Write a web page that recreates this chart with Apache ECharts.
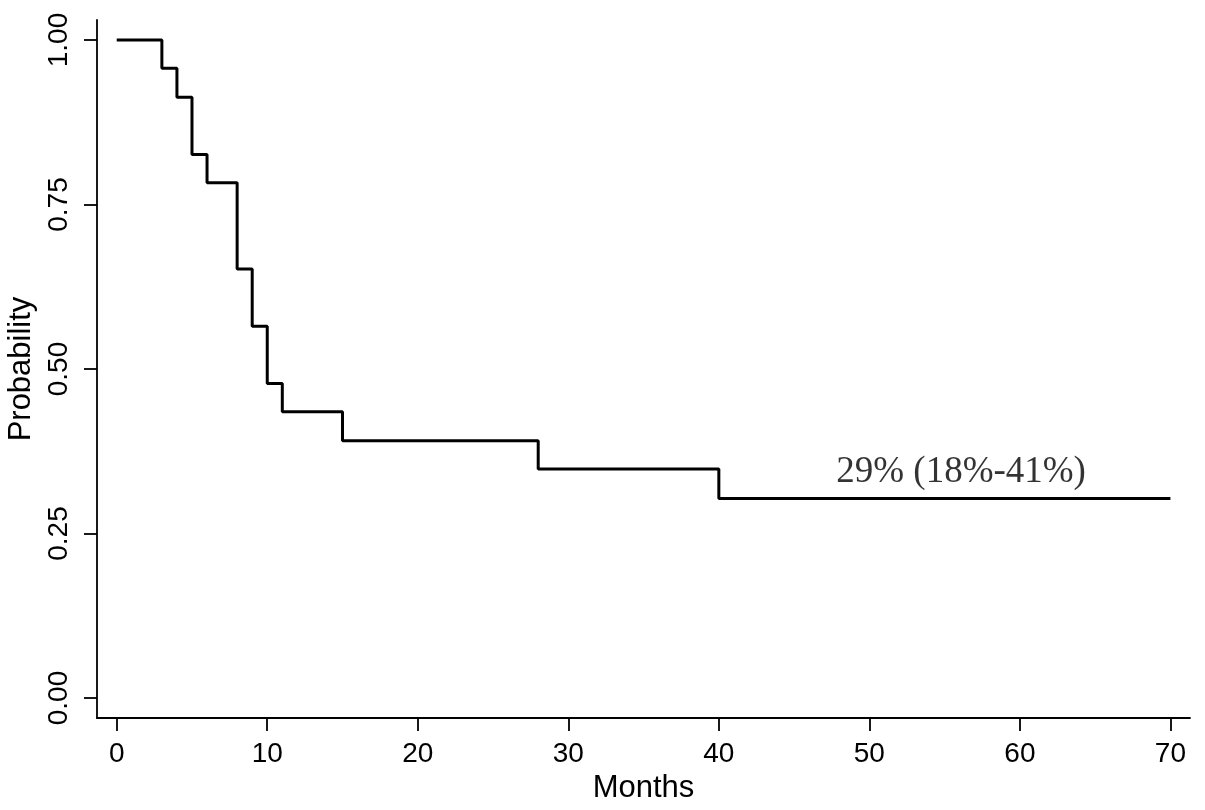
<!DOCTYPE html>
<html>
<head>
<meta charset="utf-8">
<script src="https://cdn.jsdelivr.net/npm/echarts@6/dist/echarts.min.js"></script>
<style>html,body{margin:0;padding:0;background:#fff}#c{width:1205px;height:810px}</style>
</head>
<body>
<div id="c"></div>
<script>
const months = [0, 3, 4, 5, 6, 8, 9, 10, 11, 15, 28, 40, 70];
const probability = [1.0, 0.957, 0.913, 0.826, 0.783, 0.652, 0.565, 0.478, 0.435, 0.391, 0.348, 0.303, 0.303];
const xTicks = [0, 10, 20, 30, 40, 50, 60, 70];
const yTicks = [0, 0.25, 0.5, 0.75, 1.0];
const annotationText = '29% (18%-41%)';
const annotationAt = [47.8, 0.343];

const chart = echarts.init(document.getElementById('c'), null, {renderer: 'canvas'});
const font = 'Liberation Sans, Arial, sans-serif';
chart.setOption({
  animation: false,
  backgroundColor: '#fff',
  grid: {left: 97, right: 15, top: 20, bottom: 92, outerBoundsMode: 'none', containLabel: false},
  xAxis: {
    type: 'value', min: -1.31, max: 71.3,
    name: 'Months', nameLocation: 'middle', nameGap: 48,
    nameTextStyle: {fontFamily: font, fontSize: 31, color: '#000'},
    axisLine: {show: true, onZero: false, lineStyle: {color: '#000', width: 1.8}},
    axisTick: {show: true, length: 13, customValues: xTicks, lineStyle: {color: '#000', width: 1.8}},
    axisLabel: {customValues: xTicks, margin: 22, fontFamily: font, fontSize: 28, color: '#000'},
    splitLine: {show: false}
  },
  yAxis: {
    type: 'value', min: -0.0304, max: 1.0304,
    name: 'Probability', nameLocation: 'middle', nameGap: 58,
    nameTextStyle: {fontFamily: font, fontSize: 31, color: '#000'},
    axisLine: {show: true, onZero: false, lineStyle: {color: '#000', width: 1.8}},
    axisTick: {show: true, length: 13, customValues: yTicks, lineStyle: {color: '#000', width: 1.8}},
    axisLabel: {customValues: yTicks, rotate: 90, margin: 24, fontFamily: font, fontSize: 28, color: '#000',
      formatter: v => v.toFixed(2)},
    splitLine: {show: false}
  },
  series: [
    {
      type: 'line', step: 'end', showSymbol: false, symbol: 'none',
      data: months.map((m, i) => [m, probability[i]]),
      lineStyle: {color: '#000', width: 3}
    },
    {
      type: 'scatter', symbolSize: 0, silent: true,
      data: [annotationAt],
      label: {show: true, position: 'right', distance: 0, formatter: annotationText,
        fontFamily: 'Liberation Serif, Times New Roman, serif', fontSize: 37, color: '#000'}
    }
  ]
});
</script>
</body>
</html>
